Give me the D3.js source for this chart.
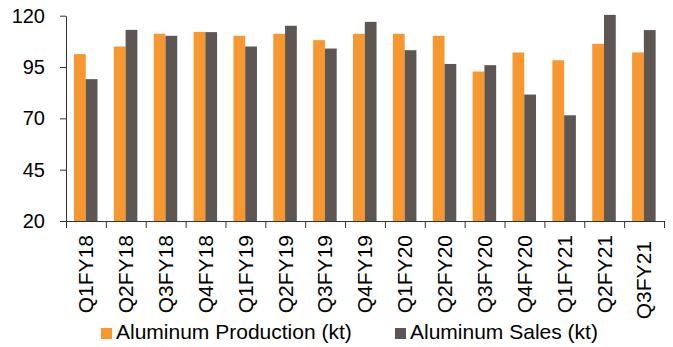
<!DOCTYPE html>
<html>
<head>
<meta charset="utf-8">
<script src="https://cdn.jsdelivr.net/npm/d3@7/dist/d3.min.js"></script>
<style>
  html, body { margin: 0; padding: 0; background: #fff; }
  svg { display: block; font-family: "Liberation Sans", Arial, sans-serif; }
</style>
</head>
<body>
<svg id="chart" width="673" height="347"></svg>
<script>
// Quarterly aluminium output and sales, kilotonnes
const quarters = ["Q1FY18","Q2FY18","Q3FY18","Q4FY18","Q1FY19","Q2FY19","Q3FY19","Q4FY19",
                  "Q1FY20","Q2FY20","Q3FY20","Q4FY20","Q1FY21","Q2FY21","Q3FY21"];
const production = [101.3, 105.0, 111.2, 112.1, 110.2, 111.2, 108.1, 111.2, 111.2, 110.2, 92.8, 102.1, 98.3, 106.3, 102.1];
const sales      = [89.1, 113.1, 110.2, 112.0, 105.0, 115.1, 104.0, 117.0, 103.2, 96.5, 95.9, 81.6, 71.5, 120.4, 113.0];
const seriesNames = ["Aluminum Production (kt)", "Aluminum Sales (kt)"];
const seriesColors = ["#F7972F", "#5E5652"];
const yTicks = [20, 45, 70, 95, 120];

const svg = d3.select("#chart");
const plotLeft = 66, plotRight = 664, plotTop = 15.7, plotBottom = 221;

const x0 = d3.scaleBand().domain(quarters).range([plotLeft, plotRight]).padding(0);
const bw = x0.bandwidth();
const x1 = d3.scaleBand().domain([0, 1]).range([bw * 0.2, bw * 0.79]).padding(0);
const y = d3.scaleLinear().domain([20, 120]).range([plotBottom, plotTop]);

const rows = quarters.map((q, i) => ({ q, vals: [production[i], sales[i]] }));

// Bars
const groups = svg.append("g").selectAll("g").data(rows).join("g")
  .attr("transform", d => `translate(${x0(d.q)},0)`);
groups.selectAll("rect").data(d => d.vals.map((v, k) => ({ v, k }))).join("rect")
  .attr("x", d => x1(d.k))
  .attr("width", x1.bandwidth())
  .attr("y", d => y(d.v))
  .attr("height", d => y(20) - y(d.v))
  .attr("fill", d => seriesColors[d.k]);

// Y axis
const yAxis = svg.append("g").attr("transform", `translate(${plotLeft},0)`)
  .call(d3.axisLeft(y).tickValues(yTicks).tickSize(6).tickPadding(15).tickSizeOuter(0));
yAxis.select(".domain").attr("stroke", "#333");
yAxis.selectAll(".tick line").attr("stroke", "#333");
yAxis.selectAll(".tick text").attr("font-size", 20).attr("fill", "#000")
  .attr("font-family", "Liberation Sans, Arial, sans-serif");

// X axis: ticks at category boundaries
const xEdge = d3.scaleLinear().domain([0, quarters.length]).range([plotLeft, plotRight]);
const xAxis = svg.append("g").attr("transform", `translate(0,${plotBottom})`)
  .call(d3.axisBottom(xEdge).tickValues(d3.range(quarters.length + 1)).tickSize(7).tickFormat("").tickSizeOuter(0));
xAxis.select(".domain").attr("stroke", "#333").attr("d", `M${plotLeft - 6},0.5H${plotRight}`);
xAxis.selectAll(".tick line").attr("stroke", "#333");

// Category labels, rotated; the final one sits a little lower
svg.append("g").selectAll("text").data(quarters).join("text")
  .attr("transform", (d, i) => `translate(${x0(d) + bw / 2},${i === quarters.length - 1 ? 241 : 235}) rotate(-90)`)
  .attr("text-anchor", "end")
  .attr("dy", "0.35em")
  .attr("font-size", 21)
  .attr("fill", "#000")
  .text(d => d);

// Legend
const legendX = [101, 395];
const legend = svg.append("g").selectAll("g").data(seriesNames).join("g")
  .attr("transform", (d, i) => `translate(${legendX[i]},328)`);
legend.append("rect").attr("width", 11).attr("height", 11)
  .attr("fill", (d, i) => seriesColors[i]);
legend.append("text").attr("x", 15).attr("y", 11.3)
  .attr("font-size", 21).attr("fill", "#000")
  .text(d => d);
</script>
</body>
</html>
